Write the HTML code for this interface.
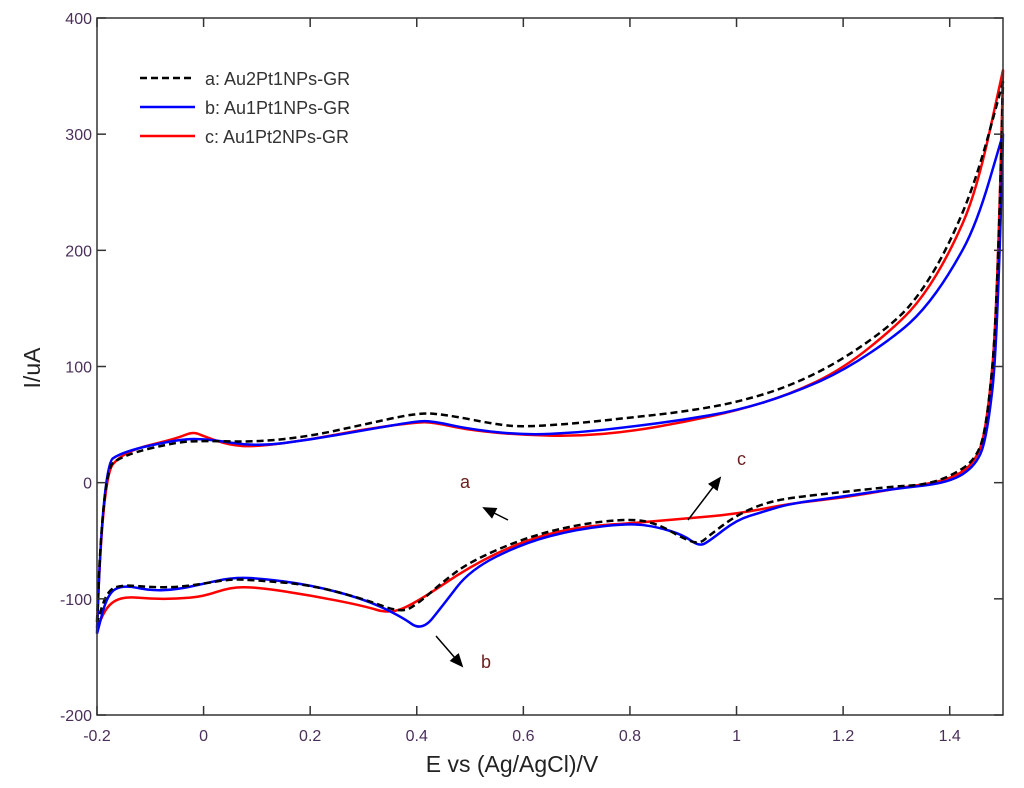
<!DOCTYPE html>
<html><head><meta charset="utf-8"><style>
body{margin:0;background:#fff;}
svg{display:block;font-family:"Liberation Sans",sans-serif;}
</style></head><body>
<svg id="chart" width="1024" height="788"></svg>
<script>
const xTicks=[-0.2,0,0.2,0.4,0.6,0.8,1,1.2,1.4];
const yTicks=[-200,-100,0,100,200,300,400];
const aE=[-0.2,-0.19,-0.15,-0.05,0,0.1,0.2,0.3,0.4,0.45,0.55,0.6,0.7,0.8,0.9,1.0,1.1,1.2,1.3,1.35,1.4,1.45,1.5,1.49,1.47,1.45,1.4,1.35,1.3,1.2,1.1,1.05,1.0,0.95,0.93,0.9,0.85,0.8,0.7,0.6,0.5,0.45,0.4,0.37,0.3,0.2,0.1,0.05,0,-0.05,-0.1,-0.15,-0.18,-0.2];
const aI=[-120,10,24,35,36,35,40,50,60,59,50,48,51,56,61,69,83,106,139,166,206,261,345,150,50,20,5,-2,-3,-8,-13,-18,-28,-45,-53,-48,-35,-31,-36,-48,-68,-85,-105,-112,-100,-88,-84,-83,-87,-90,-90,-88,-92,-120];
const bE=[-0.2,-0.19,-0.15,-0.05,0,0.1,0.2,0.3,0.4,0.43,0.5,0.6,0.7,0.8,0.9,1.0,1.1,1.2,1.3,1.35,1.4,1.45,1.5,1.49,1.47,1.45,1.4,1.3,1.2,1.1,1.05,1.0,0.95,0.93,0.9,0.85,0.8,0.7,0.6,0.5,0.45,0.41,0.37,0.3,0.2,0.1,0.05,0,-0.05,-0.1,-0.15,-0.18,-0.2];
const bI=[-130,15,27,37,38,31,37,45,53,53,46,41,43,48,54,62,76,96,127,148,180,222,300,120,40,15,0,-5,-12,-18,-25,-32,-50,-55,-45,-38,-35,-40,-52,-75,-105,-128,-115,-100,-88,-82,-82,-87,-92,-93,-88,-95,-130];
const cE=[-0.2,-0.19,-0.15,-0.05,-0.02,0,0.05,0.1,0.2,0.3,0.4,0.43,0.5,0.6,0.7,0.8,0.9,1.0,1.1,1.2,1.3,1.35,1.4,1.45,1.5,1.49,1.47,1.45,1.4,1.3,1.2,1.1,1.0,0.9,0.85,0.8,0.7,0.6,0.5,0.4,0.35,0.3,0.2,0.1,0.05,0,-0.05,-0.1,-0.15,-0.18,-0.2];
const cI=[-125,5,27,38,44,40,32,31,37,46,52,52,45,41,40,44,52,62,76,98,135,160,198,250,355,150,50,18,2,-5,-13,-18,-27,-31,-33,-35,-38,-50,-72,-103,-113,-106,-97,-90,-90,-98,-100,-100,-98,-105,-125];
const L=97,R=1003,T=18,B=715;
const X=v=>L+(v+0.2)/1.7*(R-L);
const Y=v=>B-(v+200)/600*(B-T);
const svg=document.getElementById('chart');
const NS='http://www.w3.org/2000/svg';
function mk(t,a,p){const e=document.createElementNS(NS,t);for(const k in a)e.setAttribute(k,a[k]);(p||svg).appendChild(e);return e;}
function seg(P,first){
 let d=first?'M'+P[0][0]+','+P[0][1]:'';
 for(let i=1;i<P.length-1;i++){
  const mx=(P[i][0]+P[i+1][0])/2,my=(P[i][1]+P[i+1][1])/2;
  d+=' Q'+P[i][0]+','+P[i][1]+' '+mx+','+my;
 }
 const l=P[P.length-1];d+=' L'+l[0]+','+l[1];
 return d;
}
function smooth(E,I){
 const P=E.map((e,i)=>[X(e),Y(I[i])]);
 let k=0;E.forEach((e,i)=>{if(e>E[k])k=i;});
 return seg(P.slice(0,k+1),true)+seg(P.slice(k),false);
}
function series(E,I,col,dash,name){
 const p=mk('path',{d:smooth(E,I),fill:'none',stroke:col,'stroke-width':2.5,'stroke-linejoin':'round'});
 if(dash)p.setAttribute('stroke-dasharray',dash);
 
 
}
series(cE,cI,'#ff0000',null,'series-c-line');
series(bE,bI,'#0000ff',null,'series-b-line');
series(aE,aI,'#000000','7,4','series-a-line');
const box=mk('rect',{x:L,y:T,width:R-L,height:B-T,fill:'none',stroke:'#333','stroke-width':1.5});


xTicks.forEach(v=>{
 mk('line',{x1:X(v),x2:X(v),y1:B,y2:B-9,stroke:'#333','stroke-width':1.5});
 mk('line',{x1:X(v),x2:X(v),y1:T,y2:T+9,stroke:'#333','stroke-width':1.5});
 const t=mk('text',{x:X(v),y:B+26,'text-anchor':'middle','font-size':16,fill:'#4a2f5a'});t.textContent=String(v);
 
 
});
yTicks.forEach(v=>{
 mk('line',{x1:L,x2:L+9,y1:Y(v),y2:Y(v),stroke:'#333','stroke-width':1.5});
 mk('line',{x1:R,x2:R-9,y1:Y(v),y2:Y(v),stroke:'#333','stroke-width':1.5});
 const t=mk('text',{x:L-5,y:Y(v)+6,'text-anchor':'end','font-size':16,fill:'#4a2f5a'});t.textContent=String(v);
 
 
});
</script>
<svg width="1024" height="788" style="position:absolute;left:0;top:0">
<defs><marker id="ah2" markerWidth="14" markerHeight="12" refX="12" refY="6" orient="auto" markerUnits="userSpaceOnUse"><path d="M0,0 L14,6 L0,12 Z" fill="#000"/></marker></defs>
<text x="512" y="772" text-anchor="middle" font-size="23" fill="#222">E vs (Ag/AgCl)/V</text>
<text transform="translate(40,368) rotate(-90)" text-anchor="middle" font-size="23" fill="#222">I/uA</text>
<g>
<line x1="140" y1="78" x2="195" y2="78" stroke="#000" stroke-width="2.5" stroke-dasharray="7,4"/>
<text x="205" y="85" font-size="18" fill="#333">a: Au2Pt1NPs-GR</text>
<line x1="140" y1="107" x2="195" y2="107" stroke="#0000ff" stroke-width="2.5"/>
<text x="205" y="114" font-size="18" fill="#333">b: Au1Pt1NPs-GR</text>
<line x1="140" y1="136" x2="195" y2="136" stroke="#ff0000" stroke-width="2.5"/>
<text x="205" y="143" font-size="18" fill="#333">c: Au1Pt2NPs-GR</text>
</g>
<line x1="508" y1="520" x2="484" y2="508" stroke="#000" stroke-width="1.5" marker-end="url(#ah2)"/>
<text x="460" y="488" font-size="18" fill="#6b2020">a</text>
<line x1="688" y1="520" x2="720" y2="478" stroke="#000" stroke-width="1.5" marker-end="url(#ah2)"/>
<text x="737" y="465" font-size="18" fill="#6b2020">c</text>
<line x1="436" y1="636" x2="462" y2="666" stroke="#000" stroke-width="1.5" marker-end="url(#ah2)"/>
<text x="481" y="668" font-size="18" fill="#6b2020">b</text>
</svg>
</body></html>
